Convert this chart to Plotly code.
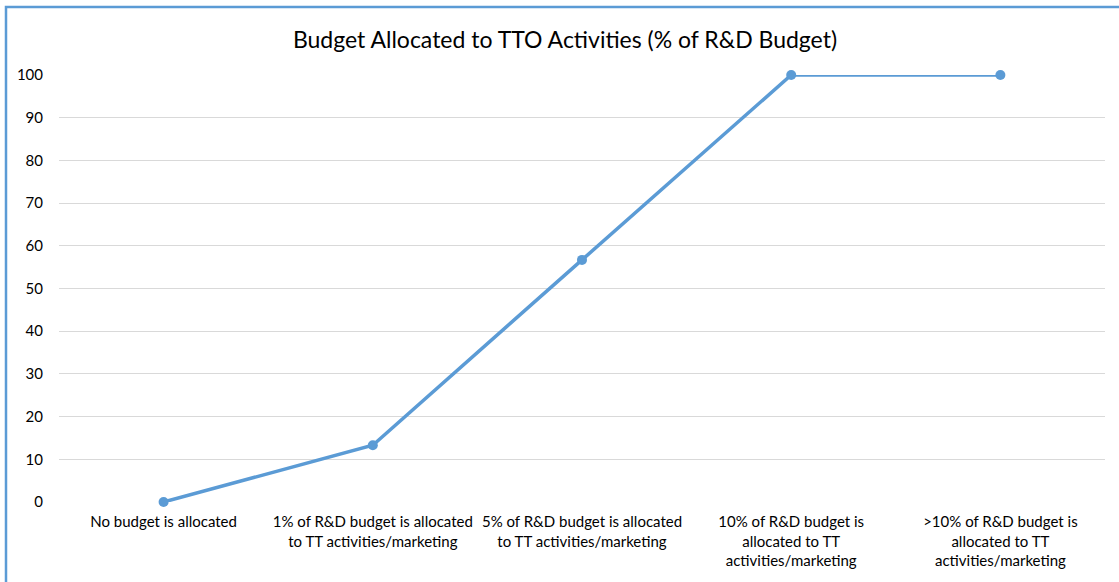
import plotly.graph_objects as go

categories = [
    "No budget is allocated",
    "1% of R&D budget is allocated<br>to TT activities/marketing",
    "5% of R&D budget is allocated<br>to TT activities/marketing",
    "10% of R&D budget is<br>allocated to TT<br>activities/marketing",
    ">10% of R&D budget is<br>allocated to TT<br>activities/marketing",
]
values = [0, 13.3, 56.7, 100, 100]
title_text = "Budget Allocated to TTO Activities (% of R&D Budget)"

# body margin is removed by the post_script below, so figure pixels == page pixels
OFF = 0
W, H = 1119, 582
px_left, px_right, px_top, px_bottom = 59, 1105, 75, 502
L = px_left - OFF
T = px_top - OFF
R = W - (px_right - OFF)
B = H - (px_bottom - OFF)
pw, ph = W - L - R, H - T - B

def xp(px):
    return (px - px_left) / pw

def yp(py):
    return (px_bottom - py) / ph

fig = go.Figure()
fig.add_trace(go.Scatter(
    x=categories, y=values, mode="lines+markers",
    line=dict(color="#5B9BD5", width=3.5),
    marker=dict(color="#5B9BD5", size=10),
    showlegend=False, cliponaxis=False,
))

fig.update_layout(
    width=W, height=H,
    margin=dict(l=L, r=R, t=T, b=B, autoexpand=False),
    paper_bgcolor="white", plot_bgcolor="white",
    font=dict(family="Lato, Carlito, Calibri, sans-serif", color="#000000", size=15),
    title=dict(text=title_text, x=xp(565), xref="paper", xanchor="center",
               y=1 - (40 - OFF) / H, yref="container", yanchor="middle",
               font=dict(size=23, color="#000000")),
    xaxis=dict(range=[-0.5, 4.5], showgrid=False, showline=False, zeroline=False,
               ticks="", tickfont=dict(size=15), ticklabelstandoff=9,
               automargin=False),
    yaxis=dict(range=[0, 100], dtick=10, showgrid=True, gridcolor="#D9D9D9",
               gridwidth=1, zeroline=False, showline=False, ticks="",
               tickfont=dict(size=15), ticklabelstandoff=15, automargin=False),
    shapes=[dict(type="rect", xref="paper", yref="paper",
                 x0=xp(6), x1=xp(W + 40),
                 y0=yp(H + 40), y1=yp(7),
                 line=dict(color="#5B9BD5", width=2.5), layer="below")],
)

fig.write_html("out.html", config={"displayModeBar": False},
               post_script="document.body.style.margin='0';")
